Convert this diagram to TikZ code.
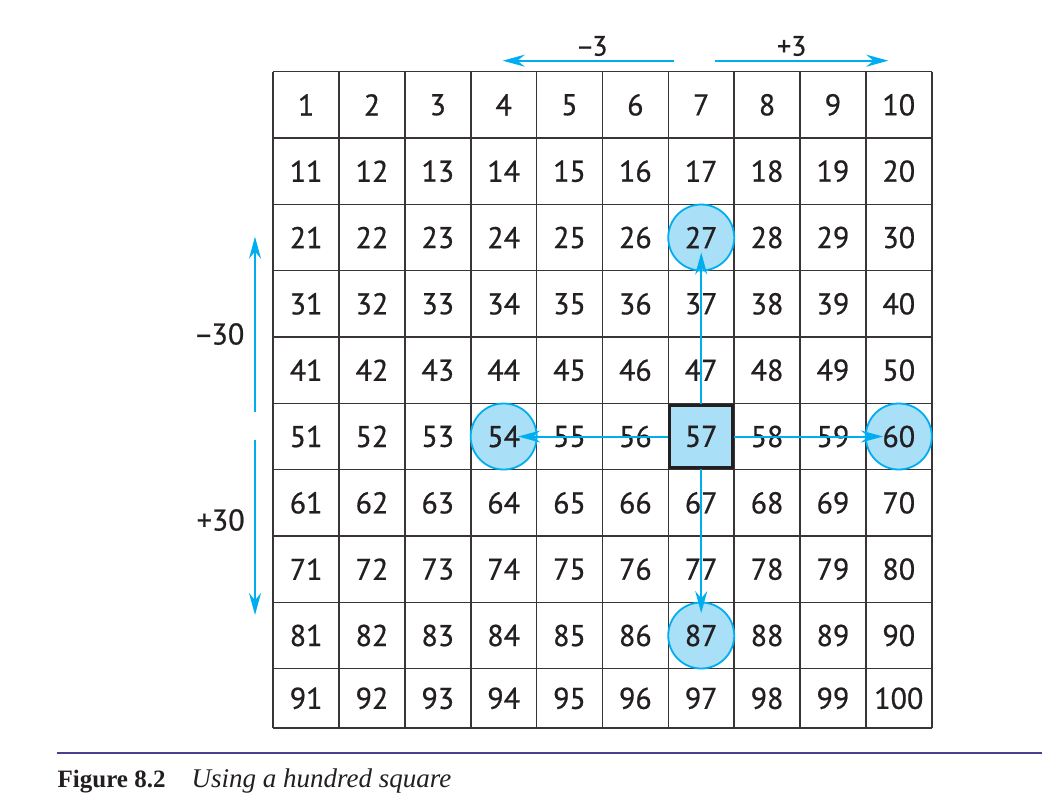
\documentclass[tikz,border=0pt]{standalone}
\usepackage{fontspec}
\setmainfont{PT Sans}[FakeBold=0.7]
\newfontfamily\capfont{Liberation Serif}
\usetikzlibrary{arrows.meta, positioning, calc}
\definecolor{hopblue}{HTML}{00AEEF}
\definecolor{paleblue}{HTML}{AADFF8}
\definecolor{ink}{HTML}{231F20}
\definecolor{rulepurple}{HTML}{4B3F8F}

\begin{document}
\begin{tikzpicture}[x=0.5pt,y=-0.5pt,>={Stealth[length=11pt,width=6pt]},
    gridline/.style={draw=ink!90,line width=0.8pt},
    num/.style={text=ink,font=\fontsize{15}{17}\selectfont,inner sep=0pt},
    lbl/.style={text=ink,inner sep=0pt},
    ring/.style={circle,draw=hopblue,fill=paleblue,line width=0.9pt,
                minimum size=33pt,inner sep=0pt},
    hilite/.style={rectangle,draw=ink,fill=paleblue,line width=1.5pt,
                minimum size=31.4pt,inner sep=0pt},
    hop/.style={->,draw=hopblue,line width=1pt}]
    \useasboundingbox (0,0) rectangle (1042,807);
    \foreach \r in {0,...,9}
        \foreach \c in {1,...,10}{
            \pgfmathtruncatemacro\n{10*\r+\c}
            \pgfmathsetmacro\yy{\r<9 ? 71.7+66.33*(\r+0.5) : 698.35}
            \coordinate (p\n) at ({273.2+65.85*(\c-0.5)},\yy);
        }
    \foreach \i in {0,...,10}
        \draw[gridline] ({273.2+65.85*\i},71.7) -- ({273.2+65.85*\i},728);
    \foreach \j in {0,...,9}
        \draw[gridline] (273.2,{71.7+66.33*\j}) -- (931.7,{71.7+66.33*\j});
    \draw[gridline] (273.2,728) -- (931.7,728);
    \foreach \k in {27,54,60,87}
        \node[ring] (c\k) at (p\k) {};
    \node[hilite] (b57) at (p57) {};
    \foreach \n in {1,...,100}
        \node[num] (n\n) at (p\n) {\n};
    \draw[hop,shorten >=7.25pt] (b57.west) -- (c54.center);
    \draw[hop,shorten >=7.9pt] (b57.east) -- (c60.center);
    \draw[hop,shorten >=7.5pt] (b57.north) -- (c27.center);
    \draw[hop,shorten >=11.2pt] (b57.south) -- (c87.center);
    % jumps round the edge
    \coordinate (lt) at (674.3,60.7);
    \coordinate (lh) at (502.7,60.7);
    \coordinate (rt) at (715.3,60.7);
    \coordinate (rh) at (888.3,60.7);
    \coordinate (ut) at (255,411.7);
    \coordinate (uh) at (255,236.7);
    \coordinate (dt) at (255,440);
    \coordinate (dh) at (255,615);
    \draw[hop] (lt) -- (lh);
    \draw[hop] (rt) -- (rh);
    \draw[hop] (ut) -- (uh);
    \draw[hop] (dt) -- (dh);
    \node[lbl,font=\fontsize{14}{16}\selectfont] (mthree) at (591.7,46) {–\kern-1pt3};
    \node[lbl,font=\fontsize{14}{16}\selectfont] (pthree) at (791.7,46) {+3};
    \node[lbl,font=\fontsize{15}{17}\selectfont] (mthirty) at (219,334) {–\kern-1pt30};
    \node[lbl,font=\fontsize{15}{17}\selectfont] (pthirty) at (220.7,520) {+30};
    \coordinate (rulel) at (56.7,753.3);
    \coordinate (ruler) at (1042,753.3);
    \draw[draw=rulepurple,line width=0.85pt] (rulel) -- (ruler);
    \node[anchor=base west,inner sep=0pt,text=ink] (cap) at (57.3,787.7)
        {\capfont\fontsize{12.5}{14}\selectfont\bfseries Figure 8.2\hspace{13pt}%
        \mdseries\itshape\fontsize{13.5}{15}\selectfont Using a hundred square};
\end{tikzpicture}
\end{document}
